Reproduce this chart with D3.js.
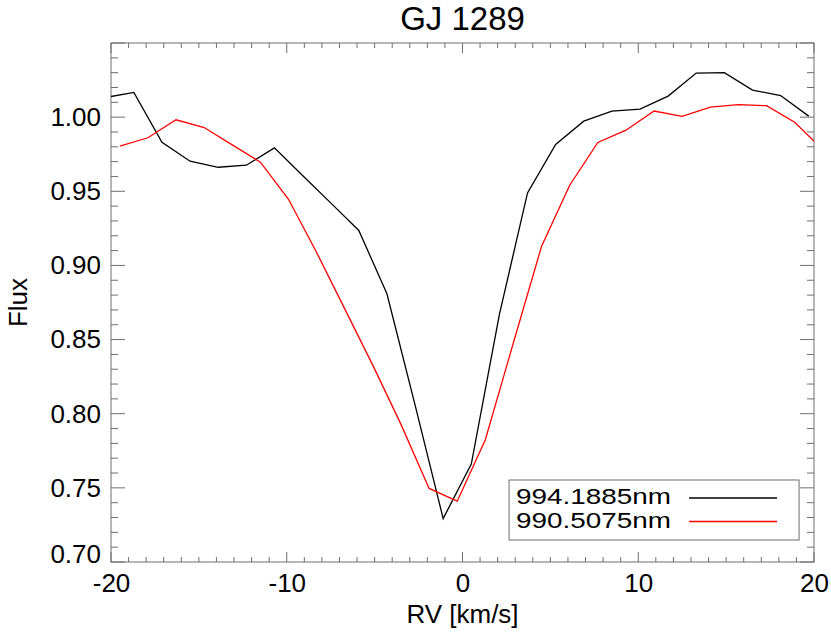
<!DOCTYPE html>
<html>
<head>
<meta charset="utf-8">
<script src="https://cdn.jsdelivr.net/npm/d3@7"></script>
<style>
  body { margin: 0; background: #fff; }
  text { font-family: "Liberation Sans", Arial, sans-serif; fill: #000; }
</style>
</head>
<body>
<div id="chart"></div>
<script>
// ------ DATA ------

const titleText = "GJ 1289";
const xLabel = "RV [km/s]";
const yLabel = "Flux";

// black line: 994.1885nm
const rvBlack = [-20.3, -18.7, -17.1, -15.5, -13.9, -12.3, -10.7, -9.1, -7.5, -5.9, -4.3, -2.7, -1.1,
                 0.5, 2.1, 3.7, 5.3, 6.9, 8.5, 10.1, 11.7, 13.3, 14.9, 16.5, 18.1, 19.7];
const fluxBlack = [1.0133, 1.0167, 0.9831, 0.9703, 0.9662, 0.9676, 0.9793, 0.9607, 0.9422, 0.9236, 0.8809, 0.8059, 0.7293,
                   0.7660, 0.8670, 0.9489, 0.9816, 0.9973, 1.0041, 1.0054, 1.0142, 1.0297, 1.0300, 1.0182, 1.0146, 1.0007];

// red line: 990.5075nm
const rvRed = [-19.5, -17.9, -16.3, -14.7, -13.1, -11.5, -9.9, -8.3, -6.7, -5.1, -3.5, -1.9, -0.3,
               1.3, 2.9, 4.5, 6.1, 7.7, 9.3, 10.9, 12.5, 14.1, 15.7, 17.3, 18.9, 20.5];
const fluxRed = [0.9804, 0.9861, 0.9982, 0.9930, 0.9813, 0.9696, 0.9446, 0.9087, 0.8707, 0.8326, 0.7928, 0.7496, 0.7410,
                 0.7825, 0.8480, 0.9130, 0.9541, 0.9829, 0.9912, 1.0041, 1.0005, 1.0068, 1.0084, 1.0077, 0.9966, 0.9780];

const seriesNames = ["994.1885nm", "990.5075nm"];
const seriesColors = ["#000000", "#ff0000"];

const xTicks = [-20, -10, 0, 10, 20];
const yTicks = [0.70, 0.75, 0.80, 0.85, 0.90, 0.95, 1.00];

// ------ LAYOUT ------

const W = 831, H = 638;
const margin = {top: 43, right: 17, bottom: 76, left: 111};
const width = W - margin.left - margin.right;
const height = H - margin.top - margin.bottom;
const axisColor = "#6e6e6e";

const svg = d3.select("#chart").append("svg")
  .attr("width", W).attr("height", H);

const g = svg.append("g").attr("transform", `translate(${margin.left},${margin.top})`);

const x = d3.scaleLinear().domain([-20, 20]).range([0, width]);
const y = d3.scaleLinear().domain([0.70, 1.05]).range([height, 0]);

// clip so the end points past the frame get cut
g.append("clipPath").attr("id", "clip")
  .append("rect").attr("width", width).attr("height", height);

// ------ AXES (ticks on all 4 sides, pointing inward) ------

const xMinor = d3.range(-20, 21, 1);
const yMinor = d3.range(0.70, 1.0501, 0.01);

function drawFrame() {
  const frame = g.append("g").attr("stroke", axisColor).attr("stroke-width", 1);
  frame.append("rect").attr("width", width).attr("height", height).attr("fill", "none");

  xMinor.forEach(v => {
    const major = Math.abs(v % 10) < 1e-9;
    const len = major ? 10 : 5;
    frame.append("line").attr("x1", x(v)).attr("x2", x(v)).attr("y1", height).attr("y2", height - len);
    frame.append("line").attr("x1", x(v)).attr("x2", x(v)).attr("y1", 0).attr("y2", len);
  });
  yMinor.forEach(v => {
    const r = Math.round(v * 100);
    const major = r % 5 === 0;
    const len = major ? 14 : 7;
    frame.append("line").attr("x1", 0).attr("x2", len).attr("y1", y(v)).attr("y2", y(v));
    frame.append("line").attr("x1", width).attr("x2", width - len).attr("y1", y(v)).attr("y2", y(v));
  });
}
drawFrame();

// tick labels via d3 axes, lines hidden (plain hyphen minus like the original)
const xAxis = g.append("g")
  .attr("transform", `translate(0,${height})`)
  .call(d3.axisBottom(x).tickValues(xTicks).tickFormat(d => String(d)).tickSize(0).tickPadding(12));
const yAxis = g.append("g")
  .call(d3.axisLeft(y).tickValues(yTicks).tickFormat(d3.format(".2f")).tickSize(0).tickPadding(10));
[xAxis, yAxis].forEach(a => {
  a.select(".domain").remove();
  a.selectAll("text").attr("font-family", "Liberation Sans, Arial, sans-serif")
    .attr("font-size", 26).attr("fill", "#000");
});
// bottom label sits a bit above the frame, as in the original
yAxis.selectAll("text").filter(d => d === 0.70).attr("dy", "0.0em");

// ------ LINES ------

const line = d3.line().x(d => x(d[0])).y(d => y(d[1]));
const plot = g.append("g").attr("clip-path", "url(#clip)");
plot.append("path")
  .datum(d3.zip(rvBlack, fluxBlack))
  .attr("fill", "none").attr("stroke", seriesColors[0]).attr("stroke-width", 1.3)
  .attr("d", line);
plot.append("path")
  .datum(d3.zip(rvRed, fluxRed))
  .attr("fill", "none").attr("stroke", seriesColors[1]).attr("stroke-width", 1.3)
  .attr("d", line);

// ------ LEGEND ------

const leg = g.append("g").attr("transform", `translate(${x(2.65)},${y(0.7553)})`);
leg.append("rect").attr("width", 290).attr("height", 60)
  .attr("fill", "#fff").attr("stroke", axisColor).attr("stroke-width", 1);
seriesNames.forEach((name, i) => {
  leg.append("text").attr("x", 7).attr("y", 24 + i * 24.5)
    .attr("font-size", 22).attr("textLength", 155).attr("lengthAdjust", "spacingAndGlyphs")
    .text(name);
  leg.append("line").attr("x1", 180).attr("x2", 268)
    .attr("y1", 18 + i * 23.5).attr("y2", 18 + i * 23.5)
    .attr("stroke", seriesColors[i]).attr("stroke-width", 1.3);
});

// ------ TITLES ------

svg.append("text").attr("x", margin.left + width / 2).attr("y", 30)
  .attr("text-anchor", "middle").attr("font-size", 33).text(titleText);
svg.append("text").attr("x", margin.left + width / 2).attr("y", 623)
  .attr("text-anchor", "middle").attr("font-size", 26).text(xLabel);
svg.append("text").attr("transform", `translate(27,${margin.top + height / 2}) rotate(-90)`)
  .attr("text-anchor", "middle").attr("font-size", 26).text(yLabel);
</script>
</body>
</html>
